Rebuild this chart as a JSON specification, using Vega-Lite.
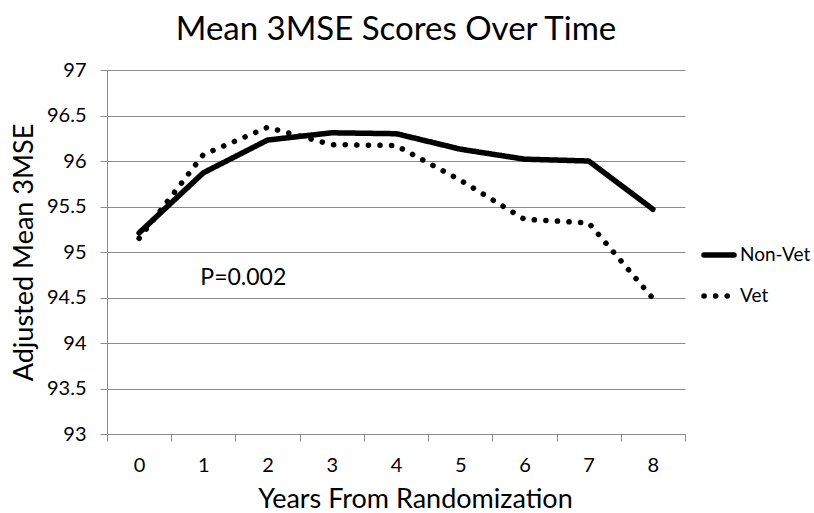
{
  "$schema": "https://vega.github.io/schema/vega-lite/v6.json",
  "width": 578,
  "height": 364,
  "autosize": {"type": "none"},
  "padding": {"left": 107, "top": 70, "right": 129, "bottom": 79},
  "background": "white",
  "config": {
    "font": "Lato",
    "view": {"stroke": null}
  },
  "title": {
    "text": "Mean 3MSE Scores Over Time",
    "fontSize": 33,
    "fontWeight": "normal",
    "color": "#000000",
    "anchor": "middle",
    "offset": 13,
    "font": "Lato"
  },
  "datasets": {
    "scores": [
      {"year": "0", "group": "Non-Vet", "score": 95.21},
      {"year": "1", "group": "Non-Vet", "score": 95.87},
      {"year": "2", "group": "Non-Vet", "score": 96.23},
      {"year": "3", "group": "Non-Vet", "score": 96.31},
      {"year": "4", "group": "Non-Vet", "score": 96.3},
      {"year": "5", "group": "Non-Vet", "score": 96.13},
      {"year": "6", "group": "Non-Vet", "score": 96.02},
      {"year": "7", "group": "Non-Vet", "score": 96.0},
      {"year": "8", "group": "Non-Vet", "score": 95.47},
      {"year": "0", "group": "Vet", "score": 95.15},
      {"year": "1", "group": "Vet", "score": 96.07},
      {"year": "2", "group": "Vet", "score": 96.37},
      {"year": "3", "group": "Vet", "score": 96.18},
      {"year": "4", "group": "Vet", "score": 96.17},
      {"year": "5", "group": "Vet", "score": 95.79},
      {"year": "6", "group": "Vet", "score": 95.36},
      {"year": "7", "group": "Vet", "score": 95.32},
      {"year": "8", "group": "Vet", "score": 94.49}
    ],
    "note": [
      {"year": "1", "score": 94.71, "label": "P=0.002"}
    ]
  },
  "layer": [
    {
      "data": {"name": "scores"},
      "mark": {"type": "line", "strokeWidth": 5.5, "strokeCap": "round", "strokeJoin": "round", "color": "#000000"},
      "encoding": {
        "x": {
          "field": "year",
          "type": "ordinal",
          "bandPosition": 0.5,
          "scale": {"type": "band", "paddingInner": 0, "paddingOuter": 0},
          "axis": {
            "title": "Years From Randomization",
            "titleFontSize": 27,
            "titleFontWeight": "normal",
            "titleColor": "#000000",
            "titlePadding": 11,
            "titleX": 308,
            "labelFontSize": 20,
            "labelColor": "#000000",
            "labelAngle": 0,
            "labelPadding": 14,
            "tickBand": "extent",
            "tickSize": 7,
            "tickColor": "#8c8c8c",
            "domainColor": "#8c8c8c",
            "grid": false
          }
        },
        "y": {
          "field": "score",
          "type": "quantitative",
          "scale": {"domain": [93, 97], "nice": false, "zero": false},
          "axis": {
            "title": "Adjusted Mean 3MSE",
            "titleFontSize": 27,
            "titleFontWeight": "normal",
            "titleColor": "#000000",
            "titlePadding": 8,
            "values": [93, 93.5, 94, 94.5, 95, 95.5, 96, 96.5, 97],
            "format": "~r",
            "labelFontSize": 20,
            "labelColor": "#000000",
            "labelPadding": 14,
            "tickSize": 7,
            "tickColor": "#8c8c8c",
            "domainColor": "#8c8c8c",
            "gridColor": "#8c8c8c",
            "gridOpacity": 1,
            "grid": true
          }
        },
        "strokeDash": {
          "field": "group",
          "type": "nominal",
          "scale": {"domain": ["Non-Vet", "Vet"], "range": [[1, 0], [0.1, 11.5]]},
          "legend": {
            "title": null,
            "orient": "none",
            "legendX": 594,
            "legendY": 167,
            "labelFontSize": 19,
            "labelColor": "#000000",
            "labelLimit": 200,
            "symbolType": "stroke",
            "symbolSize": 900,
            "symbolStrokeWidth": 5.5,
            "symbolStrokeColor": "#000000",
            "rowPadding": 12,
            "labelOffset": 3,
            "encode": {"symbols": {"update": {"strokeCap": {"value": "round"}}}}
          }
        }
      }
    },
    {
      "data": {"name": "note"},
      "mark": {"type": "text", "fontSize": 23, "align": "left", "baseline": "middle", "dx": -3, "color": "#000000"},
      "encoding": {
        "x": {"field": "year", "type": "ordinal", "bandPosition": 0.5},
        "y": {"field": "score", "type": "quantitative"},
        "text": {"field": "label"}
      }
    }
  ]
}
